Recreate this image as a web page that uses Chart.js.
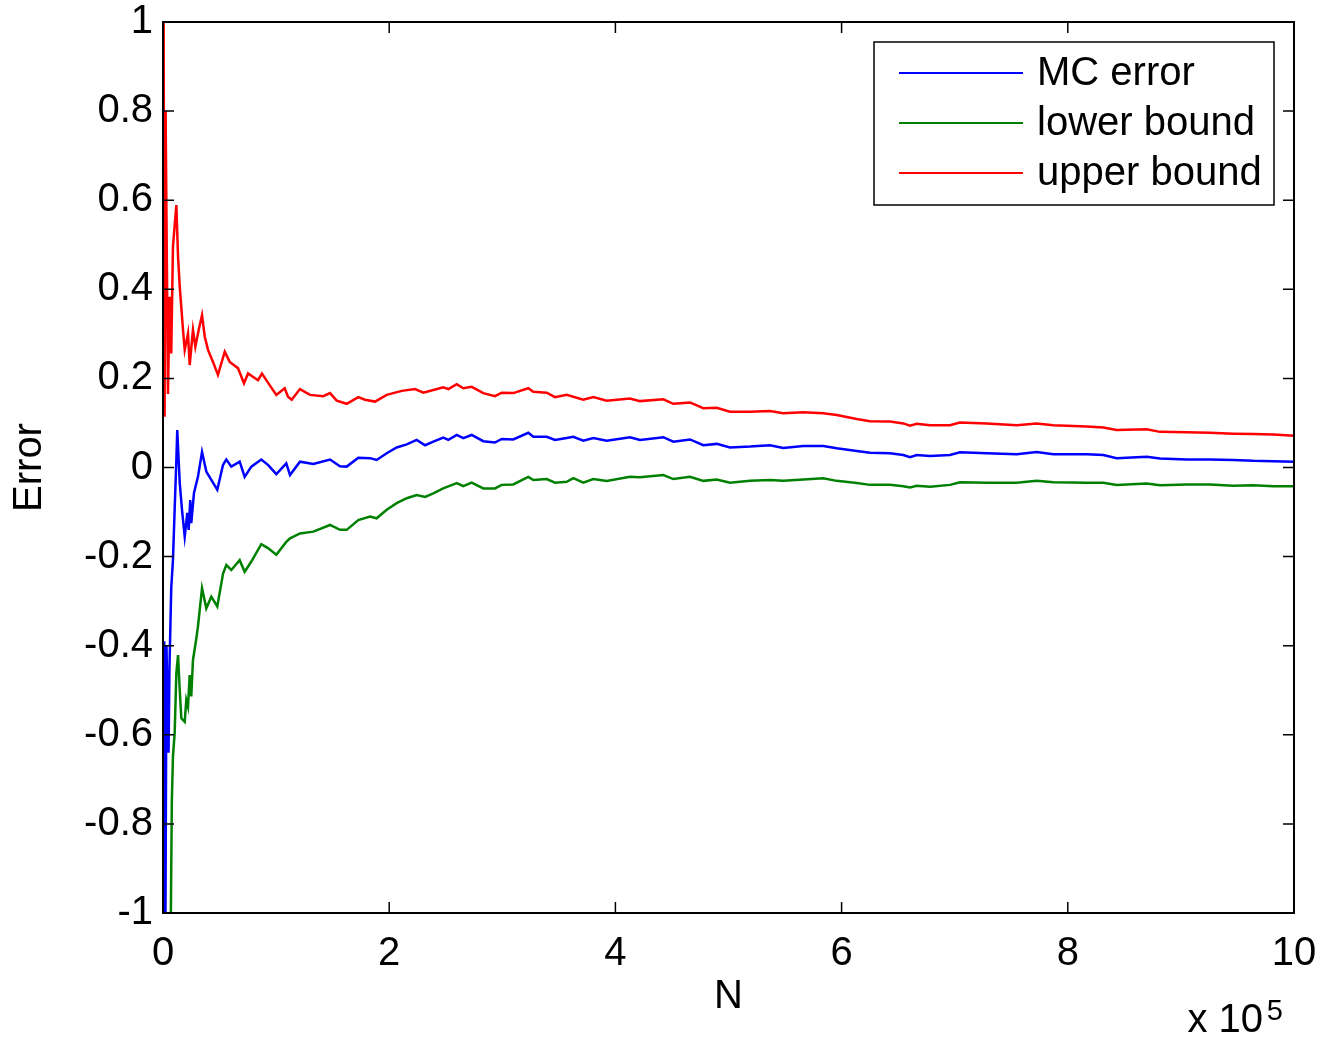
<!DOCTYPE html>
<html>
<head>
<meta charset="utf-8">
<script src="https://cdn.jsdelivr.net/npm/chart.js@4.4.1/dist/chart.umd.min.js"></script>
<style>
  html, body { margin: 0; padding: 0; background: #fff; }
  #wrap { width: 1319px; height: 1037px; }
</style>
</head>
<body>
<div id="wrap"><canvas id="chart" width="1319" height="1037"></canvas></div>
<script>
// N is in units of 1e5 (axis shows "x 10^5")
const xTicks = [0, 2, 4, 6, 8, 10];
const yTicks = [-1, -0.8, -0.6, -0.4, -0.2, 0, 0.2, 0.4, 0.6, 0.8, 1];

const mcN = [0.002, 0.011, 0.019, 0.031, 0.040, 0.049, 0.057, 0.073, 0.088, 0.103, 0.118, 0.126, 0.148, 0.168, 0.192, 0.215, 0.227, 0.241, 0.250, 0.274,
  0.309, 0.345, 0.383, 0.427, 0.480, 0.531, 0.560, 0.604, 0.678, 0.722, 0.781, 0.869, 0.928, 1.002, 1.090,
  1.123, 1.211, 1.329, 1.477, 1.565, 1.624, 1.727, 1.830, 1.889, 1.978, 2.066, 2.155, 2.243, 2.317, 2.390, 2.478, 2.523, 2.597, 2.655, 2.729,
  2.832, 2.935, 2.995, 3.097, 3.230, 3.274, 3.393, 3.466, 3.569, 3.628, 3.716, 3.805, 3.923, 4.129, 4.217, 4.424, 4.512, 4.660, 4.777, 4.896,
  5.013, 5.190, 5.367, 5.484, 5.661, 5.838, 5.957, 6.134, 6.251, 6.428, 6.546, 6.605, 6.664, 6.782, 6.958, 7.047, 7.283, 7.548, 7.725, 7.872,
  8.167, 8.314, 8.432, 8.698, 8.815, 9.051, 9.257, 9.463, 9.640, 9.817, 10.0];
const mcErr = [-1.3, -0.39, -1.2, -0.40, -0.55, -0.64, -0.45, -0.27, -0.208, -0.095, 0.017, 0.084, -0.035, -0.095, -0.155, -0.102, -0.14, -0.073, -0.125, -0.057,
  -0.021, 0.035, -0.009, -0.028, -0.05, 0.006, 0.018, 0.002, 0.013, -0.021, 0.002, 0.018, 0.006, -0.015, 0.009,
  -0.017, 0.013, 0.008, 0.018, 0.003, 0.002, 0.022, 0.021, 0.017, 0.032, 0.045, 0.052, 0.062, 0.050, 0.058, 0.067, 0.062, 0.073, 0.066, 0.073,
  0.059, 0.056, 0.064, 0.063, 0.078, 0.069, 0.069, 0.062, 0.066, 0.069, 0.060, 0.066, 0.060, 0.068, 0.062, 0.068, 0.058, 0.063, 0.050, 0.053,
  0.045, 0.047, 0.050, 0.044, 0.048, 0.048, 0.043, 0.037, 0.033, 0.032, 0.028, 0.023, 0.028, 0.026, 0.028, 0.034, 0.032, 0.030, 0.035, 0.030,
  0.030, 0.028, 0.021, 0.024, 0.020, 0.018, 0.018, 0.017, 0.015, 0.014, 0.013];

const lowerN = [0.002, 0.068, 0.078, 0.088, 0.103, 0.118, 0.133, 0.148, 0.162, 0.192, 0.206, 0.221, 0.236, 0.250, 0.265, 0.294, 0.309, 0.345, 0.383, 0.427,
  0.480, 0.531, 0.560, 0.604, 0.678, 0.722, 0.781, 0.869, 0.928, 1.002, 1.090,
  1.123, 1.211, 1.329, 1.477, 1.565, 1.624, 1.727, 1.830, 1.889, 1.978, 2.066, 2.155, 2.243, 2.317, 2.390, 2.478, 2.597, 2.655, 2.729,
  2.832, 2.935, 2.995, 3.097, 3.230, 3.274, 3.393, 3.466, 3.569, 3.628, 3.716, 3.805, 3.923, 4.129, 4.217, 4.424, 4.512, 4.660, 4.777, 4.896,
  5.013, 5.190, 5.367, 5.484, 5.661, 5.838, 5.957, 6.134, 6.251, 6.428, 6.546, 6.605, 6.664, 6.782, 6.958, 7.047, 7.283, 7.548, 7.725, 7.872,
  8.167, 8.314, 8.432, 8.698, 8.815, 9.051, 9.257, 9.463, 9.640, 9.817, 10.0];
const lowerErr = [-1.6, -1.05, -0.75, -0.649, -0.597, -0.462, -0.421, -0.50, -0.563, -0.571, -0.522, -0.537, -0.466, -0.514, -0.432, -0.385, -0.357, -0.271, -0.316, -0.290,
  -0.312, -0.238, -0.219, -0.230, -0.208, -0.234, -0.211, -0.172, -0.181, -0.196, -0.167,
  -0.159, -0.148, -0.144, -0.129, -0.140, -0.140, -0.118, -0.110, -0.114, -0.095, -0.080, -0.069, -0.062, -0.066, -0.058, -0.047, -0.035, -0.042, -0.034,
  -0.047, -0.047, -0.039, -0.038, -0.021, -0.028, -0.026, -0.034, -0.032, -0.024, -0.034, -0.026, -0.030, -0.021, -0.022, -0.017, -0.026, -0.021, -0.030, -0.027,
  -0.034, -0.030, -0.028, -0.030, -0.027, -0.024, -0.030, -0.035, -0.039, -0.039, -0.042, -0.045, -0.041, -0.043, -0.039, -0.033, -0.034, -0.034, -0.030, -0.033,
  -0.034, -0.034, -0.039, -0.036, -0.040, -0.038, -0.038, -0.041, -0.040, -0.042, -0.042];

const upperN = [0.001, 0.005, 0.014, 0.023, 0.029, 0.044, 0.059, 0.073, 0.088, 0.118, 0.133, 0.148, 0.177, 0.192, 0.221, 0.236, 0.265, 0.286, 0.316, 0.345,
  0.369, 0.398, 0.442, 0.486, 0.546, 0.590, 0.663, 0.716, 0.752, 0.840, 0.875, 0.943, 1.002, 1.076,
  1.105, 1.138, 1.211, 1.300, 1.417, 1.477, 1.536, 1.624, 1.727, 1.786, 1.875, 1.978, 2.111, 2.228, 2.302, 2.390, 2.478, 2.523, 2.597, 2.655, 2.729,
  2.832, 2.935, 2.995, 3.097, 3.230, 3.274, 3.393, 3.466, 3.569, 3.716, 3.805, 3.923, 4.129, 4.217, 4.424, 4.512, 4.660, 4.777, 4.896,
  5.013, 5.190, 5.367, 5.484, 5.661, 5.838, 5.957, 6.134, 6.251, 6.428, 6.546, 6.605, 6.664, 6.782, 6.958, 7.047, 7.283, 7.548, 7.725, 7.872,
  8.167, 8.314, 8.432, 8.698, 8.815, 9.051, 9.257, 9.463, 9.640, 9.817, 10.0];
const upperErr = [0.45, 1.05, 0.114, 0.80, 0.615, 0.165, 0.383, 0.256, 0.496, 0.589, 0.473, 0.406, 0.309, 0.264, 0.301, 0.230, 0.309, 0.271, 0.309, 0.342,
  0.294, 0.264, 0.237, 0.208, 0.260, 0.237, 0.223, 0.189, 0.211, 0.196, 0.211, 0.185, 0.163, 0.178,
  0.159, 0.152, 0.176, 0.163, 0.160, 0.167, 0.150, 0.143, 0.158, 0.152, 0.148, 0.163, 0.172, 0.176, 0.168, 0.174, 0.180, 0.176, 0.187, 0.178, 0.181,
  0.167, 0.160, 0.168, 0.167, 0.178, 0.170, 0.168, 0.158, 0.163, 0.152, 0.158, 0.150, 0.155, 0.149, 0.153, 0.143, 0.146, 0.133, 0.134,
  0.125, 0.125, 0.127, 0.122, 0.124, 0.122, 0.118, 0.109, 0.104, 0.103, 0.099, 0.094, 0.098, 0.095, 0.095, 0.101, 0.099, 0.095, 0.099, 0.095,
  0.092, 0.090, 0.084, 0.086, 0.080, 0.079, 0.078, 0.076, 0.075, 0.074, 0.071];

const FONT = '"Liberation Sans", Arial, Helvetica, sans-serif';
const toPts = (xs, ys) => xs.map((x, i) => ({ x, y: ys[i] }));

// box + inward ticks on all four sides, "x 10^5" exponent
const matlabAxes = {
  id: "matlabAxes",
  afterDraw(chart) {
    const { ctx, chartArea: a, scales: { x, y } } = chart;
    const tl = 11;
    ctx.save();
    ctx.strokeStyle = "#000";
    ctx.lineWidth = 1.5;
    ctx.beginPath();
    x.ticks.forEach(t => {
      const px = x.getPixelForValue(t.value);
      ctx.moveTo(px, a.bottom); ctx.lineTo(px, a.bottom - tl);
      ctx.moveTo(px, a.top); ctx.lineTo(px, a.top + tl);
    });
    y.ticks.forEach(t => {
      const py = y.getPixelForValue(t.value);
      ctx.moveTo(a.left, py); ctx.lineTo(a.left + tl, py);
      ctx.moveTo(a.right, py); ctx.lineTo(a.right - tl, py);
    });
    ctx.stroke();
    ctx.lineWidth = 2;
    ctx.strokeRect(a.left, a.top, a.right - a.left, a.bottom - a.top);

    ctx.fillStyle = "#000";
    ctx.textBaseline = "alphabetic";
    ctx.textAlign = "right";
    ctx.font = `29px ${FONT}`;
    ctx.fillText("5", a.right - 11, a.bottom + 107);
    ctx.font = `40px ${FONT}`;
    ctx.fillText("x 10", a.right - 31, a.bottom + 119);
    ctx.restore();
  }
};

// legend box in the upper right corner
const boxLegend = {
  id: "boxLegend",
  afterDraw(chart) {
    const { ctx, chartArea: a } = chart;
    const w = 400, h = 163;
    const bx = a.right - 20 - w, by = a.top + 20;
    ctx.save();
    ctx.fillStyle = "#fff";
    ctx.fillRect(bx, by, w, h);
    ctx.strokeStyle = "#000";
    ctx.lineWidth = 1.5;
    ctx.strokeRect(bx, by, w, h);
    ctx.font = `40px ${FONT}`;
    ctx.textBaseline = "middle";
    ctx.textAlign = "left";
    chart.data.datasets.forEach((ds, i) => {
      const cy = by + 31 + i * 50;
      ctx.strokeStyle = ds.borderColor;
      ctx.lineWidth = 2;
      ctx.beginPath();
      ctx.moveTo(bx + 25, cy);
      ctx.lineTo(bx + 149, cy);
      ctx.stroke();
      ctx.fillStyle = "#000";
      ctx.fillText(ds.label, bx + 163, cy + 1);
    });
    ctx.restore();
  }
};

new Chart(document.getElementById("chart"), {
  type: "line",
  data: {
    datasets: [
      { label: "MC error", data: toPts(mcN, mcErr), borderColor: "#0000ff", order: 3 },
      { label: "lower bound", data: toPts(lowerN, lowerErr), borderColor: "#008000", order: 2 },
      { label: "upper bound", data: toPts(upperN, upperErr), borderColor: "#ff0000", order: 1 },
    ]
  },
  options: {
    responsive: false,
    animation: false,
    devicePixelRatio: 1,
    layout: { padding: { left: 0, right: 25, top: 22, bottom: 0 } },
    elements: {
      line: { borderWidth: 2.5, tension: 0, fill: false },
      point: { radius: 0, hoverRadius: 0 }
    },
    scales: {
      x: {
        type: "linear",
        min: 0, max: 10,
        afterBuildTicks: s => { s.ticks = xTicks.map(v => ({ value: v })); },
        afterFit: s => { s.height = 124; s.paddingLeft = 0; s.paddingRight = 0; },
        grid: { display: false, drawTicks: false, tickLength: 0 },
        border: { display: false },
        ticks: { color: "#000", font: { family: FONT, size: 40 }, padding: 17, maxRotation: 0,
                 callback: v => String(v) },
        title: { display: true, text: "N", color: "#000", font: { family: FONT, size: 40 }, padding: { top: 0, bottom: 16 } }
      },
      y: {
        type: "linear",
        min: -1, max: 1,
        afterBuildTicks: s => { s.ticks = yTicks.map(v => ({ value: v })); },
        afterFit: s => { s.width = 163; s.paddingTop = 0; s.paddingBottom = 0; },
        grid: { display: false, drawTicks: false, tickLength: 0 },
        border: { display: false },
        ticks: { color: "#000", font: { family: FONT, size: 40 }, padding: 10,
                 callback: v => String(Math.round(v * 10) / 10) },
        title: { display: true, text: "Error", color: "#000", font: { family: FONT, size: 40 }, padding: { top: 6, bottom: 0 } }
      }
    },
    plugins: {
      legend: { display: false },
      tooltip: { enabled: false }
    }
  },
  plugins: [matlabAxes, boxLegend]
});
</script>
</body>
</html>
